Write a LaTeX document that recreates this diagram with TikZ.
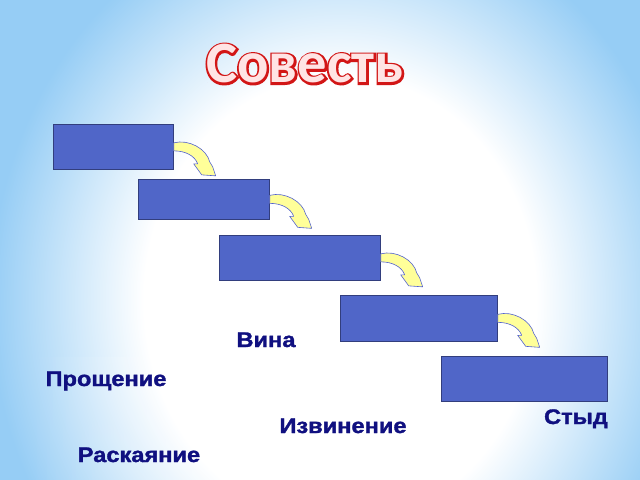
\documentclass[tikz,border=0pt]{standalone}
\usepackage{fontspec}
\usetikzlibrary{fadings}
\newfontfamily\wordfont{Liberation Sans Bold}[FakeStretch=1.12, FakeBold=1.5]
\newfontfamily\titlefont{Carlito Bold}
\newfontfamily\titlerim{Carlito Bold}[FakeBold=7]
\definecolor{bgblue}{RGB}{150,205,245}
\definecolor{boxblue}{RGB}{80,102,200}
\definecolor{boxline}{RGB}{50,62,125}
\definecolor{arryellow}{RGB}{255,255,153}
\definecolor{arrline}{RGB}{80,96,208}
\definecolor{wordblue}{RGB}{16,16,128}
\definecolor{titlered}{RGB}{210,22,22}
\definecolor{titlefill}{RGB}{255,228,228}
\pgfdeclareradialshading{glow}{\pgfpoint{0bp}{0bp}}{color(0bp)=(white); color(14bp)=(white); color(25bp)=(bgblue); color(50bp)=(bgblue)}
\tikzset{
  stepbox/.style={draw=boxline, fill=boxblue, line width=0.6pt, inner sep=0pt, anchor=north west},
  word/.style={font=\wordfont\fontsize{18}{21}\selectfont, text=wordblue, inner sep=0pt, anchor=base},
  title/.style={font=\fontsize{50}{56}\selectfont, inner sep=0pt, anchor=base},
  turn/.pic={
    \draw[draw=arrline, fill=arryellow, line width=0.5pt, line join=round]
      (0,-4) .. controls (15,-8) and (33,2) .. (36,15) -- (39,20) -- (42,29)
      -- (28,28) -- (20,17) -- (24,17) .. controls (21,9) and (12,4) .. (0,4) -- cycle;
  }
}
\begin{document}
\begin{tikzpicture}[x=0.03cm,y=-0.03cm]
        \useasboundingbox (0,0) rectangle (640,480);
        \fill[bgblue] (0,0) rectangle (640,480);
        \begin{scope}
          \clip (0,0) rectangle (640,480);
          \shade[shading=glow] (340,300) ellipse (10.5cm and 12cm);
        \end{scope}
        \fill[white, path fading=west, opacity=0.5] (30,357) rectangle (440,480);
        \node[title, text=titlered] (rim) at (305,83) {\titlerim Совесть};
        \node[title, text=titlefill] (title) at (305,83) {\titlefont Совесть};
        \node[stepbox, minimum width=3.6cm,  minimum height=1.35cm] (b1) at ( 53,124) {};
        \node[stepbox, minimum width=3.93cm, minimum height=1.2cm]  (b2) at (138,179) {};
        \node[stepbox, minimum width=4.83cm, minimum height=1.35cm] (b3) at (219,235) {};
        \node[stepbox, minimum width=4.71cm, minimum height=1.38cm] (b4) at (340,295) {};
        \node[stepbox, minimum width=4.98cm, minimum height=1.35cm] (b5) at (441,356) {};
        \pic at (b1.east) {turn};
        \pic at (b2.east) {turn};
        \pic at (b3.east) {turn};
        \pic at (b4.east) {turn};
        \node[word] (vina)  at (266,347) {Вина};
        \node[word] (prosh) at (106,386) {Прощение};
        \node[word] (izv)   at (343,433) {Извинение};
        \node[word] (rask)  at (139,462) {Раскаяние};
        \node[word] (styd)  at (576,424) {Стыд};
      \end{tikzpicture}
\end{document}
